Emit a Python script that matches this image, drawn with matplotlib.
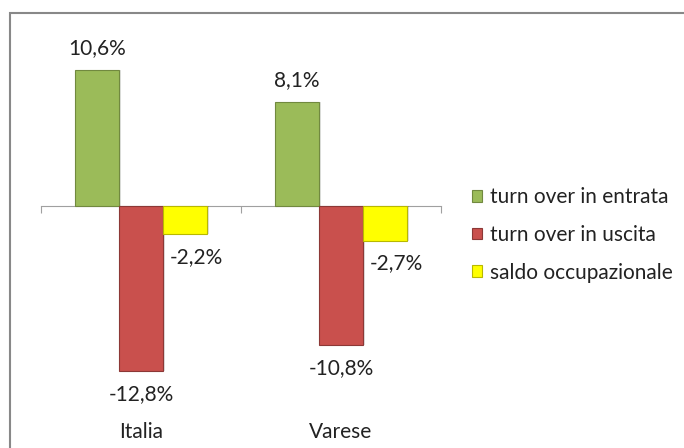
import numpy as np
import matplotlib.pyplot as plt
from matplotlib.patches import Patch, Rectangle
from matplotlib.transforms import blended_transform_factory

plt.rcParams['font.family'] = ['Lato', 'DejaVu Sans']

# Data
categories = ["Italia", "Varese"]
series_names = ["turn over in entrata", "turn over in uscita", "saldo occupazionale"]
entrata = [10.6, 8.1]
uscita = [-12.8, -10.8]
saldo = [-2.2, -2.7]
values = [entrata, uscita, saldo]

colors = ["#9BBB59", "#C9504D", "#FFFF00"]
edges = ["#71893F", "#8C3836", "#B8B800"]
label_offsets = [(0, 16), (0, -17), (8, -16)]
fs = 15

fig = plt.figure(figsize=(6.84, 4.48), dpi=100)
ax = fig.add_axes([41 / 684, 62 / 448, 400 / 684, 334 / 448])

x = np.arange(len(categories))
w = 0.22
for k, (vals, col, ec, off) in enumerate(zip(values, colors, edges, label_offsets)):
    pos = x + (k - 1) * w
    # soft shadow
    ax.bar(pos + 0.012, vals, w, color="#000000", alpha=0.12, zorder=1)
    ax.bar(pos, vals, w, color=col, edgecolor=ec, linewidth=0.8, zorder=2)
    for p, v in zip(pos, vals):
        ax.annotate(f"{v:.1f}%".replace(".", ","), (p, v), xytext=off,
                    textcoords="offset points", ha="center", va="center",
                    fontsize=fs, color="#222222", annotation_clip=False)

ax.set_xlim(-0.5, len(categories) - 0.5)
ax.set_ylim(-14, 12)
for s in ["top", "right", "left"]:
    ax.spines[s].set_visible(False)
ax.spines["bottom"].set_position(("data", 0))
ax.spines["bottom"].set_color("#A0A0A0")
ax.spines["bottom"].set_zorder(0)
ax.set_yticks([])
ax.set_xticks(np.arange(len(categories) + 1) - 0.5)
ax.set_xticklabels([])
ax.tick_params(axis="x", direction="out", length=5, color="#A0A0A0")
ax.patch.set_visible(False)

trans = blended_transform_factory(ax.transData, ax.transAxes)
for i, c in enumerate(categories):
    ax.text(i, -0.138, c, transform=trans, ha="center", va="center",
            fontsize=fs, color="#222222")

handles = [Patch(facecolor=c, edgecolor=e, linewidth=0.8) for c, e in zip(colors, edges)]
fig.legend(handles, series_names, loc="center left",
           bbox_to_anchor=(464 / 684, (448 - 235) / 448), frameon=False,
           borderaxespad=0, fontsize=fs, handlelength=0.48, handleheight=0.48,
           handletextpad=0.35, labelspacing=0.85, labelcolor="#222222")

# outer frame
fig.patches.append(Rectangle((10 / 684, -0.05), 1.0, (448 - 13) / 448 + 0.05,
                             transform=fig.transFigure, fill=False,
                             edgecolor="#888888", linewidth=1.5))

fig.savefig("out.png", dpi=100)
